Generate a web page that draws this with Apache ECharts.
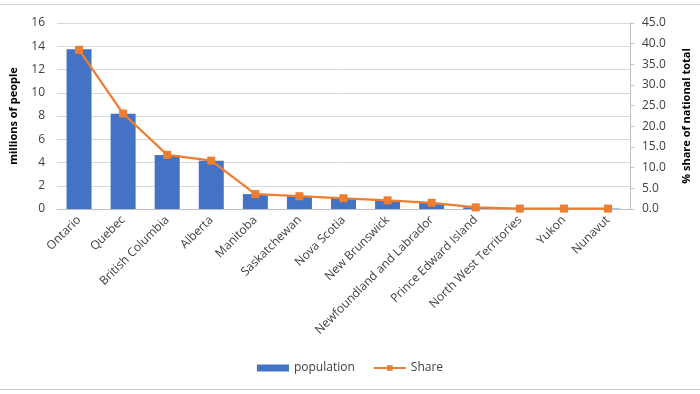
<!DOCTYPE html>
<html><head><meta charset="utf-8">
<script src="https://cdn.jsdelivr.net/npm/echarts@6/dist/echarts.min.js"></script>
<style>html,body{margin:0;padding:0;background:#fff}#c{width:700px;height:394px}</style>
</head><body><div id="c"></div>
<script>
const categories = ["Ontario","Quebec","British Columbia","Alberta","Manitoba","Saskatchewan","Nova Scotia","New Brunswick","Newfoundland and Labrador","Prince Edward Island","North West Territories","Yukon","Nunavut"];
const population = [13.75, 8.2, 4.65, 4.15, 1.28, 1.1, 0.93, 0.76, 0.52, 0.15, 0.044, 0.038, 0.036];
const share = [38.5, 23.1, 13.1, 11.7, 3.6, 3.1, 2.6, 2.1, 1.5, 0.4, 0.1, 0.1, 0.1];
const leftTicks = {min: 0, max: 16, interval: 2};
const rightTicks = {min: 0, max: 45, interval: 5};

const font = '"Open Sans", "Liberation Sans", sans-serif';
const chart = echarts.init(document.getElementById('c'), null, {renderer: 'canvas'});
chart.setOption({
  animation: false,
  textStyle: {fontFamily: font},
  graphic: [
    {type: 'line', shape: {x1: 0, y1: 4.5, x2: 700, y2: 4.5}, style: {stroke: '#d0d0d0', lineWidth: 1}},
    {type: 'line', shape: {x1: 0, y1: 389.5, x2: 700, y2: 389.5}, style: {stroke: '#c8c8c8', lineWidth: 1}}
  ],
  grid: {left: 50, right: 61, top: 23, bottom: 185},
  legend: {
    bottom: 15, left: 'center', itemGap: 18, itemWidth: 32, itemHeight: 7,
    textStyle: {fontSize: 12, color: '#404040', fontFamily: font},
    data: [{name: 'population', icon: 'rect'}, {name: 'Share'}]
  },
  xAxis: {
    type: 'category', data: categories,
    axisLine: {lineStyle: {color: '#bfbfbf'}},
    axisTick: {show: false},
    axisLabel: {rotate: 45, interval: 0, fontSize: 12, color: '#404040', margin: 9}
  },
  yAxis: [
    {type: 'value', min: leftTicks.min, max: leftTicks.max, interval: leftTicks.interval,
     name: 'millions of people', nameLocation: 'middle', nameGap: 38,
     nameTextStyle: {fontWeight: 'bold', fontSize: 11, color: '#000'},
     axisLabel: {fontSize: 12, color: '#404040', margin: 12},
     axisLine: {show: false}, axisTick: {show: false},
     splitLine: {lineStyle: {color: '#d9d9d9'}}},
    {type: 'value', min: rightTicks.min, max: rightTicks.max, interval: rightTicks.interval,
     name: '% share of national total', nameLocation: 'middle', nameGap: 51,
     nameTextStyle: {fontWeight: 'bold', fontSize: 11, color: '#000'},
     axisLabel: {fontSize: 12, color: '#404040', margin: 12, formatter: v => v.toFixed(1)},
     axisLine: {show: true, lineStyle: {color: '#bfbfbf'}},
     axisTick: {show: true, length: 4, lineStyle: {color: '#bfbfbf'}},
     splitLine: {show: false}}
  ],
  series: [
    {name: 'population', type: 'bar', data: population, yAxisIndex: 0,
     barWidth: 25, itemStyle: {color: '#4472C4'}},
    {name: 'Share', type: 'line', data: share, yAxisIndex: 1,
     symbol: 'rect', symbolSize: 8,
     lineStyle: {color: '#ED7D31', width: 2.25}, itemStyle: {color: '#ED7D31'}}
  ]
});
</script></body></html>
